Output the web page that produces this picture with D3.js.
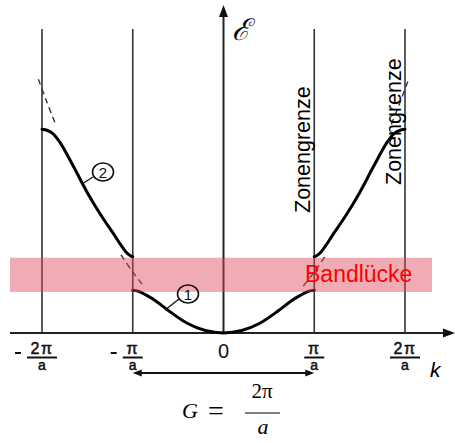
<!DOCTYPE html>
<html>
<head>
<meta charset="utf-8">
<script src="https://cdn.jsdelivr.net/npm/d3@7"></script>
<style>
  html, body { margin: 0; padding: 0; background: #fff; }
  svg { display: block; }
</style>
</head>
<body>
<svg id="chart" width="455" height="443"></svg>
<script>
// Wave vector k in units of pi/a, energy E in units of the free-electron energy at k = pi/a
const zoneLines = [-2, -1, 1, 2];

// first band (1): k in [0, pi/a], mirrored to negative k
const band1K = [0, 0.2, 0.4, 0.6, 0.75, 0.85, 0.92, 0.97, 1.0];
const band1E = [0, 0.04, 0.16, 0.36, 0.53, 0.62, 0.675, 0.695, 0.70];

// second band (2): k in [pi/a, 2pi/a], mirrored to negative k
const band2K = [1.0, 1.03, 1.07, 1.13, 1.2, 1.35, 1.5, 1.65, 1.8, 1.88, 1.94, 2.0];
const band2E = [1.25, 1.27, 1.32, 1.44, 1.60, 1.93, 2.30, 2.72, 3.12, 3.27, 3.32, 3.34];

// free-electron parabola pieces, drawn dashed where the bands deviate
const freeGapK = [0.88, 1.0, 1.13];
const freeGapE = [0.77, 1.0, 1.28];
const freeTopK = [1.85, 1.95, 2.04];
const freeTopE = [3.42, 3.80, 4.16];

// band gap between the two bands
const gapRange = [0.69, 1.25];

const tickK = [-2, -1, 0, 1, 2];
const tickNum = ["2\u03c0", "\u03c0", "0", "\u03c0", "2\u03c0"];
const tickNeg = [true, true, false, false, false];

const svg = d3.select("#chart");
const x = d3.scaleLinear().domain([-2, 2]).range([42, 405]);
const y = d3.scaleLinear().domain([0, 1]).range([333, 272]);
const y0 = y(0);

const pts = (ks, es, sign) => ks.map((k, i) => [sign * k, es[i]]);
const line = d3.line().x(d => x(d[0])).y(d => y(d[1])).curve(d3.curveCatmullRom.alpha(0.5));

// zone boundary lines
svg.append("g").selectAll("line").data(zoneLines).join("line")
  .attr("x1", d => x(d)).attr("x2", d => x(d))
  .attr("y1", 29).attr("y2", y0)
  .attr("stroke", "#333").attr("stroke-width", 1.6);

// energy axis with arrow
svg.append("line").attr("x1", x(0)).attr("x2", x(0)).attr("y1", y0).attr("y2", 14)
  .attr("stroke", "#222").attr("stroke-width", 2);
svg.append("path").attr("d", `M${x(0)},5 L${x(0) - 4.5},17 L${x(0) + 4.5},17 Z`).attr("fill", "#111");

// k axis with arrow
svg.append("line").attr("x1", 10).attr("x2", 446).attr("y1", y0).attr("y2", y0)
  .attr("stroke", "#222").attr("stroke-width", 2);
svg.append("path").attr("d", `M455,${y0} L443,${y0 - 4.5} L443,${y0 + 4.5} Z`).attr("fill", "#111");

// bands
const bands = [
  pts(band1K, band1E, -1).reverse().concat(pts(band1K, band1E, 1).slice(1)),
  pts(band2K, band2E, 1), pts(band2K, band2E, -1).reverse()
];
svg.append("g").selectAll("path").data(bands).join("path")
  .attr("d", line)
  .attr("fill", "none").attr("stroke", "#000").attr("stroke-width", 3)
  .attr("stroke-linecap", "round");

// dashed free-electron pieces
const dashed = [
  pts(freeGapK, freeGapE, 1), pts(freeGapK, freeGapE, -1).reverse(),
  pts(freeTopK, freeTopE, 1), pts(freeTopK, freeTopE, -1).reverse()
];
svg.append("g").selectAll("path").data(dashed).join("path")
  .attr("d", line)
  .attr("fill", "none").attr("stroke", "#333").attr("stroke-width", 1.4)
  .attr("stroke-dasharray", "6,4");

// band gap shading
svg.append("rect")
  .attr("x", 10).attr("width", 422)
  .attr("y", y(gapRange[1]) + 1).attr("height", y(gapRange[0]) - y(gapRange[1]))
  .attr("fill", "rgb(222,70,90)").attr("fill-opacity", 0.45);

svg.append("text").text("Bandl\u00fccke")
  .attr("x", 305).attr("y", 282)
  .attr("font-family", "Liberation Sans, Arial, sans-serif").attr("font-size", 23)
  .attr("fill", "#ff0000");

// zone boundary labels
[[1, 213], [2, 185]].forEach(([k, yb]) => {
  svg.append("text").text("Zonengrenze")
    .attr("transform", `translate(${x(k) - 4},${yb}) rotate(-90)`)
    .attr("font-family", "Liberation Sans, Arial, sans-serif").attr("font-size", 21.5)
    .attr("fill", "#000");
});

// band number markers
const markers = [
  { label: "2", cx: 103, cy: 172, lx1: 93, ly1: 177, lx2: 82, ly2: 184 },
  { label: "1", cx: 188, cy: 294, lx1: 179, ly1: 299, lx2: 165, ly2: 310 }
];
markers.forEach(m => {
  svg.append("line").attr("x1", m.lx1).attr("y1", m.ly1).attr("x2", m.lx2).attr("y2", m.ly2)
    .attr("stroke", "#111").attr("stroke-width", 1.3);
  svg.append("ellipse").attr("cx", m.cx).attr("cy", m.cy).attr("rx", 10.5).attr("ry", 9)
    .attr("fill", "none").attr("stroke", "#111").attr("stroke-width", 1.6);
  svg.append("text").text(m.label).attr("x", m.cx).attr("y", m.cy + 5.5)
    .attr("text-anchor", "middle")
    .attr("font-family", "Liberation Sans, Arial, sans-serif").attr("font-size", 15)
    .attr("fill", "#111");
});

// energy axis label
svg.append("text").text("\u2130")
  .attr("x", 232).attr("y", 40)
  .attr("font-family", "DejaVu Serif, serif").attr("font-style", "italic").attr("font-size", 30)
  .attr("fill", "#000");

// k axis tick labels
const tickFont = "Liberation Sans, Arial, sans-serif";
tickK.forEach((k, i) => {
  const cx = x(k);
  if (k === 0) {
    svg.append("text").text("0").attr("x", cx).attr("y", 358)
      .attr("text-anchor", "middle").attr("font-family", tickFont).attr("font-size", 20)
      .attr("fill", "#111");
    return;
  }
  const half = tickNum[i].length > 1 ? 15 : 10;
  svg.append("text").text(tickNum[i]).attr("x", cx).attr("y", 354)
    .attr("text-anchor", "middle").attr("font-family", tickFont).attr("font-size", 16)
    .attr("stroke", "#111").attr("stroke-width", 0.5).attr("letter-spacing", 1.5)
    .attr("fill", "#111");
  svg.append("line").attr("x1", cx - half).attr("x2", cx + half).attr("y1", 357.5).attr("y2", 357.5)
    .attr("stroke", "#111").attr("stroke-width", 2);
  svg.append("text").text("a").attr("x", cx).attr("y", 370)
    .attr("text-anchor", "middle").attr("font-family", tickFont).attr("font-size", 14)
    .attr("stroke", "#111").attr("stroke-width", 0.5).attr("fill", "#111");
  if (tickNeg[i]) {
    svg.append("line").attr("x1", cx - half - 12).attr("x2", cx - half - 6).attr("y1", 353).attr("y2", 353)
      .attr("stroke", "#111").attr("stroke-width", 2);
  }
});

svg.append("text").text("k").attr("x", 430).attr("y", 377)
  .attr("font-family", "Liberation Sans, Arial, sans-serif").attr("font-style", "italic")
  .attr("font-size", 21).attr("fill", "#000");

// reciprocal lattice vector G spanning the first zone
const gy = 373;
svg.append("line").attr("x1", x(-1) + 3).attr("x2", x(1) - 3).attr("y1", gy).attr("y2", gy)
  .attr("stroke", "#111").attr("stroke-width", 1.8);
svg.append("path").attr("d", `M${x(-1)},${gy} L${x(-1) + 9},${gy - 3.5} L${x(-1) + 9},${gy + 3.5} Z`).attr("fill", "#111");
svg.append("path").attr("d", `M${x(1)},${gy} L${x(1) - 9},${gy - 3.5} L${x(1) - 9},${gy + 3.5} Z`).attr("fill", "#111");

// G = 2pi / a
const serif = "Liberation Serif, Times New Roman, serif";
svg.append("text").text("G").attr("x", 182).attr("y", 418)
  .attr("font-family", serif).attr("font-style", "italic").attr("font-size", 22).attr("fill", "#000");
svg.append("text").text("=").attr("x", 208).attr("y", 420)
  .attr("font-family", serif).attr("font-size", 28).attr("fill", "#000");
svg.append("text").text("2\u03c0").attr("x", 262).attr("y", 398)
  .attr("text-anchor", "middle").attr("font-family", serif).attr("font-size", 21).attr("fill", "#000");
svg.append("line").attr("x1", 245).attr("x2", 280).attr("y1", 413).attr("y2", 413)
  .attr("stroke", "#000").attr("stroke-width", 1);
svg.append("text").text("a").attr("x", 263).attr("y", 434)
  .attr("text-anchor", "middle").attr("font-family", serif).attr("font-style", "italic")
  .attr("font-size", 22).attr("fill", "#000");
</script>
</body>
</html>
